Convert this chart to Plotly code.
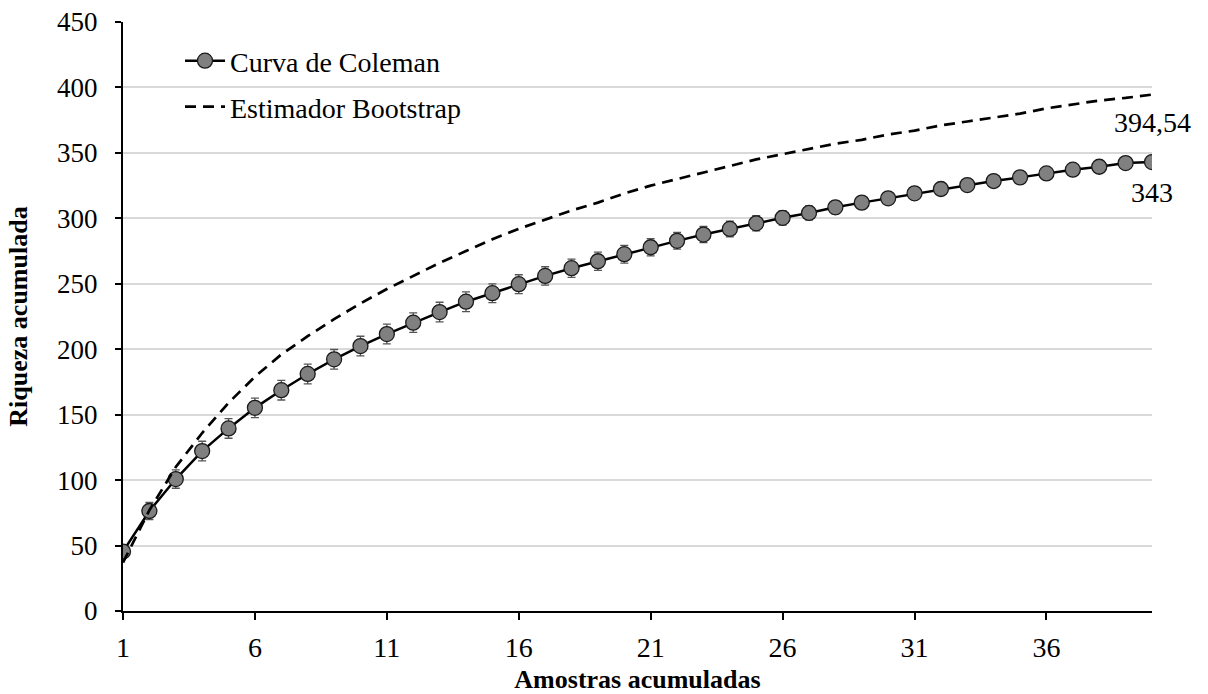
import plotly.graph_objects as go

# Accumulated samples (x axis)
amostras = list(range(1, 41))

# Coleman rarefaction curve: mean accumulated richness and its standard deviation
coleman = [45.4, 76.4, 100.8, 122.2, 139.5, 155.2, 168.7, 181.1, 192.3, 202.4,
           211.6, 220.3, 228.4, 236.3, 242.8, 249.7, 256.0, 261.9, 267.2, 272.6,
           277.9, 282.8, 287.6, 291.9, 296.2, 300.4, 304.1, 308.4, 312.0, 315.3,
           319.1, 322.4, 325.4, 328.5, 331.3, 334.3, 337.2, 339.4, 342.2, 343.0]
coleman_dp = [3.0, 6.5, 7.0, 7.5, 7.5, 7.5, 7.5, 7.5, 7.5, 7.5,
              7.5, 7.5, 7.5, 7.5, 7.2, 7.2, 7.0, 7.0, 7.0, 6.8,
              6.6, 6.4, 6.2, 6.0, 5.8, 5.5, 5.2, 4.9, 4.6, 4.3,
              4.0, 3.7, 3.4, 3.1, 2.8, 2.5, 2.1, 1.7, 1.2, 0.0]

# Bootstrap richness estimator
bootstrap = [37.0, 77.0, 110.0, 136.0, 159.0, 179.0, 196.0, 210.0, 223.0, 235.0,
             246.0, 256.0, 266.0, 275.0, 284.0, 292.0, 299.0, 306.0, 312.0, 319.0,
             325.0, 330.0, 335.0, 340.0, 345.0, 349.0, 353.0, 357.0, 360.0, 364.0,
             367.0, 371.0, 374.0, 377.0, 380.0, 384.0, 387.0, 390.0, 392.0, 394.54]

x_ticks = [1, 6, 11, 16, 21, 26, 31, 36]
y_ticks = [0, 50, 100, 150, 200, 250, 300, 350, 400, 450]

FONT = "Liberation Serif, Times New Roman, serif"
W, H = 1208, 694
ML, MR, MT, MB = 123, 56, 22, 83
PW, PH = W - ML - MR, H - MT - MB

fig = go.Figure()

fig.add_trace(go.Scatter(
    x=amostras, y=coleman, mode="lines+markers", name="Curva de Coleman",
    line=dict(color="black", width=2.5),
    marker=dict(size=15, color="#808080", line=dict(color="#1a1a1a", width=1.3)),
    error_y=dict(type="data", array=coleman_dp, color="#555555", thickness=1.3, width=4),
    legend="legend",
))

fig.add_trace(go.Scatter(
    x=amostras, y=bootstrap, mode="lines", name="Estimador Bootstrap",
    line=dict(color="black", width=2.7, dash="11px,7px"),
    legend="legend2",
))

# end-of-series value labels
fig.add_annotation(x=amostras[-1], y=bootstrap[-1], text="394,54", showarrow=False,
                   yshift=-28, xanchor="center", yanchor="middle",
                   font=dict(family=FONT, size=28, color="black"))
fig.add_annotation(x=amostras[-1], y=coleman[-1], text=f"{coleman[-1]:.0f}", showarrow=False,
                   yshift=-30, xanchor="center", yanchor="middle",
                   font=dict(family=FONT, size=28, color="black"))


def legend_box(px, py):
    # place a legend by pixel position inside the plot area
    return dict(font=dict(family=FONT, size=28, color="black"),
                bgcolor="rgba(0,0,0,0)", borderwidth=0,
                xref="paper", yref="paper",
                x=(px - ML) / PW, y=1 - (py - MT) / PH,
                xanchor="left", yanchor="middle", itemwidth=40)


fig.update_layout(
    width=W, height=H,
    margin=dict(l=ML, r=MR, t=MT, b=MB, autoexpand=False),
    paper_bgcolor="white", plot_bgcolor="white",
    font=dict(family=FONT, size=26, color="black"),
    legend=legend_box(180, 61),
    legend2=legend_box(180, 107),
    showlegend=True,
)

fig.update_xaxes(
    range=[1, 40], tickvals=x_ticks, ticktext=[str(v) for v in x_ticks],
    showgrid=False, zeroline=False,
    showline=True, linecolor="black", linewidth=2,
    ticks="outside", ticklen=7, tickwidth=1.5, tickcolor="black",
    tickfont=dict(family=FONT, size=28), ticklabelstandoff=3,
    title=dict(text="<b>Amostras acumuladas</b>", font=dict(family=FONT, size=26), standoff=8),
)
fig.update_yaxes(
    range=[0, 450], tickvals=y_ticks,
    showgrid=True, gridcolor="#d9d9d9", gridwidth=1.5, zeroline=False,
    showline=True, linecolor="black", linewidth=2,
    ticks="outside", ticklen=6, tickwidth=1.5, tickcolor="black",
    tickfont=dict(family=FONT, size=27), ticklabelstandoff=12,
    title=dict(text="<b>Riqueza acumulada</b>", font=dict(family=FONT, size=26), standoff=22),
)

fig.write_html("out.html")
